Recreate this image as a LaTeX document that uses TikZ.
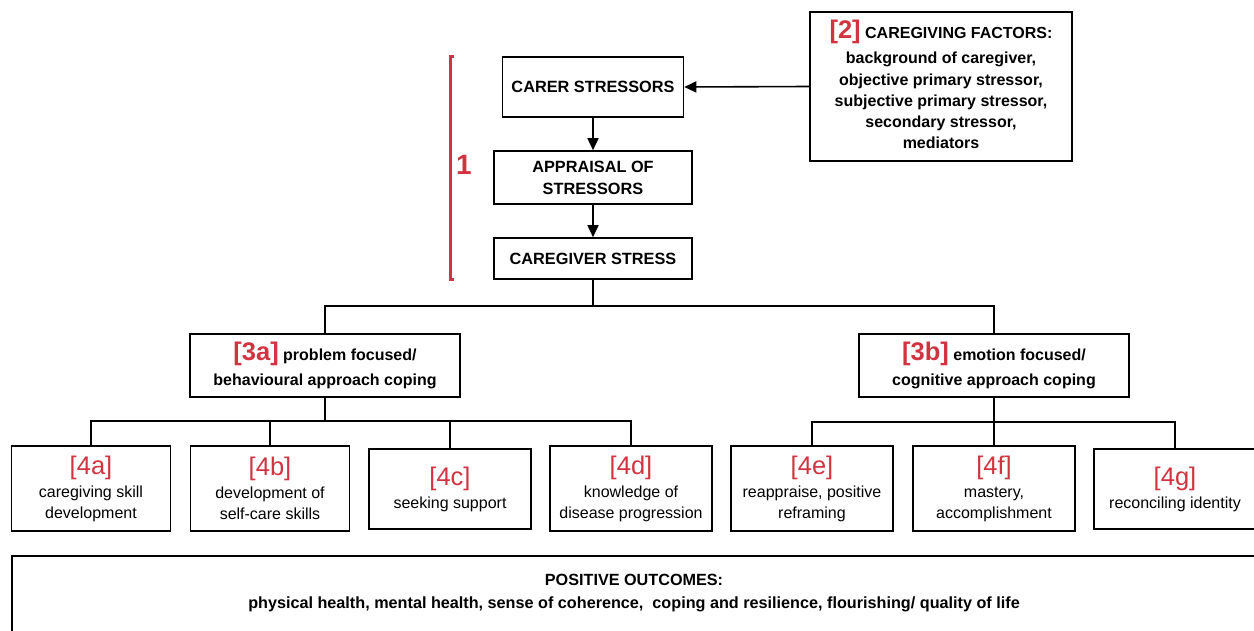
\documentclass[tikz,border=0pt]{standalone}
\usepackage{fontspec}
\setmainfont{Liberation Sans}
\usetikzlibrary{arrows.meta}
\definecolor{lblred}{RGB}{209,52,64}
\newcommand{\rl}[1]{{\fontsize{25.5}{25.5}\selectfont\color{lblred}#1}}
\begin{document}
\begin{tikzpicture}[x=1pt,y=-1pt,
  box/.style={draw=black,line width=1.6pt,fill=white,align=center,inner sep=0pt},
  bbold/.style={box,font=\fontsize{16.3}{22}\selectfont\bfseries},
  breg/.style={box,font=\fontsize{16}{21}\selectfont},
  conn/.style={line width=1.6pt,draw=black},
  arr/.style={conn,-{Triangle[length=12pt,width=11pt]}}]
\useasboundingbox (0,0) rectangle (1254,631);
\clip (0,0) rectangle (1254,631);
% upper chain
\node[bbold,minimum width=181pt,minimum height=60pt] (cs) at (593,87) {CARER STRESSORS};
\node[bbold,minimum width=198pt,minimum height=53pt] (ap) at (593,177.5) {APPRAISAL OF\\STRESSORS};
\node[bbold,minimum width=198pt,minimum height=41pt] (cg) at (593,258.5) {CAREGIVER STRESS};
\node[bbold,minimum width=262pt,minimum height=149pt] (cf) at (941,86.5) {};
\node[align=center,inner sep=0pt,font=\fontsize{16}{21.2}\selectfont\bfseries] (cft) at (941,84.25)
  {\rl{[2]} CAREGIVING FACTORS:\\[4.5pt]background of caregiver,\\objective primary stressor,\\subjective primary stressor,\\secondary stressor,\\mediators};
\draw[arr] (cf.west) -- (cs.east);
\draw[arr] (cs) -- (ap);
\draw[arr] (ap) -- (cg);
% bracket 1
\coordinate (bt) at (450,57);
\coordinate (bb) at (450,280);
\draw[lblred,line width=3pt] ([xshift=4pt]bt) -- (bt) -- (bb) -- ([xshift=4pt]bb);
\node[text=lblred,font=\fontsize{28}{28}\selectfont\bfseries] (one) at (464,165) {1};
% coping
\node[bbold,font=\fontsize{16}{25}\selectfont\bfseries,minimum width=270pt,minimum height=63pt] (b3a) at (325,365.5) {\rl{[3a]} problem focused/\\behavioural approach coping};
\node[bbold,font=\fontsize{16}{25}\selectfont\bfseries,minimum width=270pt,minimum height=63pt] (b3b) at (994,365.5) {\rl{[3b]} emotion focused/\\cognitive approach coping};
\coordinate (t1) at (593,306);
\draw[conn] (cg.south) -- (t1) -| (b3a.north);
\draw[conn] (t1) -| (b3b.north);
% level 4
\node[breg,minimum width=159pt,minimum height=85pt] (a4) at (91,488.5) {\rl{[4a]}\\[2pt]caregiving skill\\development};
\node[breg,minimum width=159pt,minimum height=85pt] (b4) at (270,488.5) {\rl{[4b]}\\[2pt]development of\\self-care skills};
\node[breg,minimum width=162pt,minimum height=80pt] (c4) at (450,489) {\rl{[4c]}\\[2pt]seeking support};
\node[breg,minimum width=162pt,minimum height=85pt] (d4) at (631,488.5) {\rl{[4d]}\\[2pt]knowledge of\\disease progression};
\node[breg,minimum width=162pt,minimum height=85pt] (e4) at (812,488.5) {\rl{[4e]}\\[2pt]reappraise, positive\\reframing};
\node[breg,minimum width=162pt,minimum height=85pt] (f4) at (994,488.5) {\rl{[4f]}\\[2pt]mastery,\\accomplishment};
\node[breg,minimum width=162pt,minimum height=80pt] (g4) at (1175,489) {\rl{[4g]}\\[2pt]reconciling identity};
\coordinate (t2) at (325,421);
\coordinate (t3) at (994,422);
\draw[conn] (b3a.south) -- (t2);
\draw[conn] (t2) -| (a4.north);
\draw[conn] (t2) -| (b4.north);
\draw[conn] (t2) -| (c4.north);
\draw[conn] (t2) -| (d4.north);
\draw[conn] (b3b.south) -- (t3);
\draw[conn] (t3) -| (e4.north);
\draw[conn] (t3) -| (f4.north);
\draw[conn] (t3) -| (g4.north);
% outcomes
\node[box,minimum width=1246pt,minimum height=90pt,anchor=north west] (po) at (11,555) {};
\node[font=\fontsize{16.2}{23}\selectfont\bfseries,align=center] (pot) at (634,593.5) {POSITIVE OUTCOMES:\\physical health, mental health, sense of coherence,\ \ coping and resilience, flourishing/ quality of life};
\end{tikzpicture}
\end{document}
